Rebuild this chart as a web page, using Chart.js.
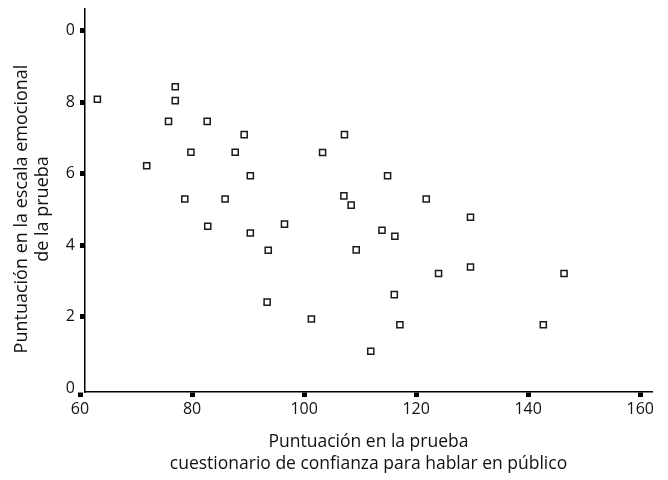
<!DOCTYPE html>
<html>
<head>
<meta charset="utf-8">
<script src="https://cdn.jsdelivr.net/npm/chart.js@4.4.0/dist/chart.umd.min.js"></script>
<style>
  html, body { margin: 0; padding: 0; background: #fff; }
  #wrap { width: 668px; height: 480px; }
</style>
</head>
<body>
<div id="wrap"><canvas id="chart"></canvas></div>
<script>
// scatter plot: public speaking confidence score vs emotional scale score

const xScores = [77.0, 63.1, 77.0, 75.8, 82.7, 89.3, 79.8, 87.7, 71.9, 90.4,
                 78.7, 85.9, 82.8, 90.4, 107.2, 103.3, 114.9, 107.1, 108.4, 121.8,
                 129.7, 96.5, 113.9, 116.2, 109.3, 129.7, 124.0, 116.1, 101.3, 117.1,
                 111.9, 146.4, 142.7, 93.6, 93.4];
const yScores = [8.43, 8.08, 8.04, 7.46, 7.46, 7.09, 6.60, 6.60, 6.22, 5.94,
                 5.29, 5.29, 4.53, 4.34, 7.09, 6.59, 5.94, 5.38, 5.12, 5.29,
                 4.78, 4.59, 4.42, 4.25, 3.87, 3.39, 3.21, 2.62, 1.94, 1.78,
                 1.04, 3.21, 1.78, 3.86, 2.41];

const xTicks = [60, 80, 100, 120, 140, 160];
const yTicks = [0, 2, 4, 6, 8, 10];
const yTickLabels = ["0", "2", "4", "6", "8", "0"];

const xTitle = ["Puntuación en la prueba", "cuestionario de confianza para hablar en público"];
const yTitle = ["Puntuación en la escala emocional", "de la prueba"];

const FONT = "'Open Sans', 'Noto Sans', sans-serif";
const INK = "#111";

// y title drawn by hand so each line can sit where the original puts it
const yTitlePlugin = {
  id: "yTitle",
  afterDraw(chart) {
    const ctx = chart.ctx;
    const spots = [[21.5, 209], [43, 209]];
    ctx.save();
    ctx.font = "500 18px " + FONT;
    ctx.fillStyle = INK;
    ctx.textAlign = "center";
    ctx.textBaseline = "middle";
    yTitle.forEach((line, i) => {
      ctx.save();
      ctx.translate(spots[i][0], spots[i][1]);
      ctx.rotate(-Math.PI / 2);
      ctx.fillText(line, 0, 0);
      ctx.restore();
    });
    ctx.restore();
  },
};

const points = xScores.map((x, i) => ({ x, y: yScores[i] }));

new Chart(document.getElementById("chart"), {
  type: "scatter",
  data: {
    datasets: [
      {
        data: points,
        pointStyle: "rect",
        pointRadius: 4.3,
        pointHoverRadius: 4.3,
        pointBorderWidth: 1.5,
        pointBorderColor: "#1a1a1a",
        pointBackgroundColor: "#fff",
      },
    ],
  },
  options: {
    responsive: true,
    maintainAspectRatio: false,
    animation: false,
    events: [],
    layout: { padding: { top: 9, right: 16, left: 0, bottom: 0 } },
    plugins: {
      legend: { display: false },
      tooltip: { enabled: false },
    },
    scales: {
      x: {
        type: "linear",
        min: 60.89,
        max: 162.1,
        afterBuildTicks(scale) {
          scale.ticks = xTicks.map((v) => ({ value: v }));
        },
        afterFit(scale) {
          scale.height = 88;
          scale.paddingLeft = 0;
          scale.paddingRight = 0;
        },
        ticks: {
          color: INK,
          font: { family: FONT, size: 16 },
          padding: 3,
          autoSkip: false,
          maxRotation: 0,
        },
        grid: {
          drawOnChartArea: false,
          tickLength: 5,
          tickWidth: 5,
          tickColor: "#000",
        },
        border: { color: "#000", width: 1.5 },
        title: {
          display: true,
          text: xTitle,
          color: INK,
          font: { family: FONT, size: 17.5, weight: "500", lineHeight: 1.26 },
          padding: { top: 0, bottom: 5 },
        },
      },
      y: {
        min: -0.1,
        max: 10.6,
        afterBuildTicks(scale) {
          scale.ticks = yTicks.map((v) => ({ value: v }));
        },
        afterFit(scale) {
          scale.width = 85;
          scale.paddingTop = 0;
          scale.paddingBottom = 0;
        },
        ticks: {
          color: INK,
          font: { family: FONT, size: 16 },
          padding: 5,
          callback: (v, i) => yTickLabels[i],
        },
        grid: {
          drawOnChartArea: false,
          tickLength: 5,
          tickWidth: 5,
          tickColor: (c) => (c.tick && c.tick.value === 0 ? "rgba(0,0,0,0)" : "#000"),
        },
        border: { color: "#000", width: 1.5 },
      },
    },
  },
  plugins: [yTitlePlugin],
});
</script>
</body>
</html>
